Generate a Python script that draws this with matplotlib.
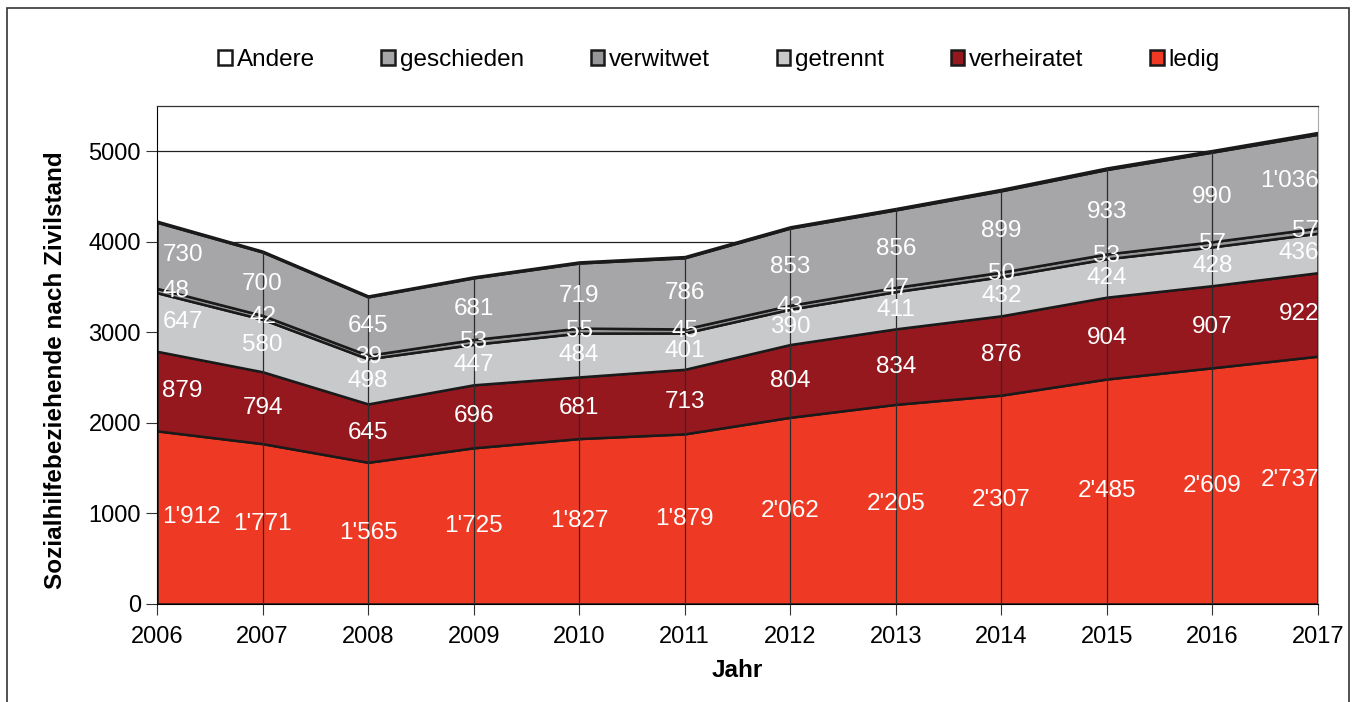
import matplotlib.pyplot as plt
from matplotlib.patches import Patch, Rectangle

plt.rcParams['font.family'] = ['Liberation Sans', 'DejaVu Sans']

jahre = list(range(2006, 2018))
ledig = [1912, 1771, 1565, 1725, 1827, 1879, 2062, 2205, 2307, 2485, 2609, 2737]
verheiratet = [879, 794, 645, 696, 681, 713, 804, 834, 876, 904, 907, 922]
getrennt = [647, 580, 498, 447, 484, 401, 390, 411, 432, 424, 428, 436]
verwitwet = [48, 42, 39, 53, 55, 45, 43, 47, 50, 53, 57, 57]
geschieden = [730, 700, 645, 681, 719, 786, 853, 856, 899, 933, 990, 1036]
andere = [12, 10, 10, 11, 12, 13, 14, 15, 16, 17, 18, 20]

namen = ['ledig', 'verheiratet', 'getrennt', 'verwitwet', 'geschieden', 'Andere']
serien = [ledig, verheiratet, getrennt, verwitwet, geschieden, andere]
farben = ['#ee3a24', '#95181e', '#c8c9cb', '#969698', '#a6a6a8', '#ffffff']

fig = plt.figure(figsize=(13.57, 7.02), dpi=100)
ax = fig.add_axes([157/1357, 1 - 604/702, (1318 - 157)/1357, (604 - 106)/702])

ax.stackplot(jahre, *serien, colors=farben, edgecolor='#1a1a1a', linewidth=1.8, zorder=2)

# Fallinien an jedem Jahr
oben = [sum(s[i] for s in serien) for i in range(len(jahre))]
ax.vlines(jahre[1:-1], 0, oben[1:-1], color='#2b2b2b', linewidth=0.9, zorder=3)

# Datenbeschriftungen
def fmt(v):
    return f"{v:,}".replace(',', "'")

for i, j in enumerate(jahre):
    basis = 0
    if i == 0:
        xp, ha = j + 0.05, 'left'
    elif i == len(jahre) - 1:
        xp, ha = j + 0.01, 'right'
    else:
        xp, ha = j, 'center'
    for s in serien[:5]:
        ax.text(xp, basis + s[i] / 2, fmt(s[i]), color='white', fontsize=17.5,
                ha=ha, va='center', zorder=4)
        basis += s[i]

ax.set_xlim(2006, 2017)
ax.set_ylim(0, 5500)
ax.set_xticks(jahre)
ax.set_yticks(range(0, 5001, 1000))
ax.tick_params(axis='both', labelsize=17, direction='out', length=8, color='#333333')
ax.tick_params(axis='x', pad=8)
ax.yaxis.grid(True, color='#222222', linewidth=0.9)
ax.set_axisbelow(True)
ax.spines['right'].set_color('#aaaaaa')
ax.spines['top'].set_color('#333333')
ax.spines['top'].set_linewidth(0.9)

ax.set_xlabel('Jahr', fontsize=17.5, fontweight='bold', labelpad=8)
ax.set_ylabel('Sozialhilfebeziehende nach Zivilstand', fontsize=17.5, fontweight='bold')
ax.yaxis.set_label_coords(-0.0775, 0.47)

# Legende
leg_order = [5, 4, 3, 2, 1, 0]
handles = [Patch(facecolor=farben[k], edgecolor='#1a1a1a', linewidth=1.8) for k in leg_order]
fig.legend(handles, [namen[k] for k in leg_order], loc='center', bbox_to_anchor=(719/1357, 1 - 60/702),
           ncol=6, frameon=False, fontsize=17.5, handlelength=0.55, handleheight=0.55,
           handletextpad=0.2, columnspacing=2.75)

# Rahmen um die ganze Grafik
fig.patches.append(Rectangle((7/1357, -0.02), (1349 - 7)/1357, 1 - 8/702 + 0.02,
                             transform=fig.transFigure, fill=False, edgecolor='#333333', linewidth=1.2))

fig.savefig('out.png', dpi=100)
